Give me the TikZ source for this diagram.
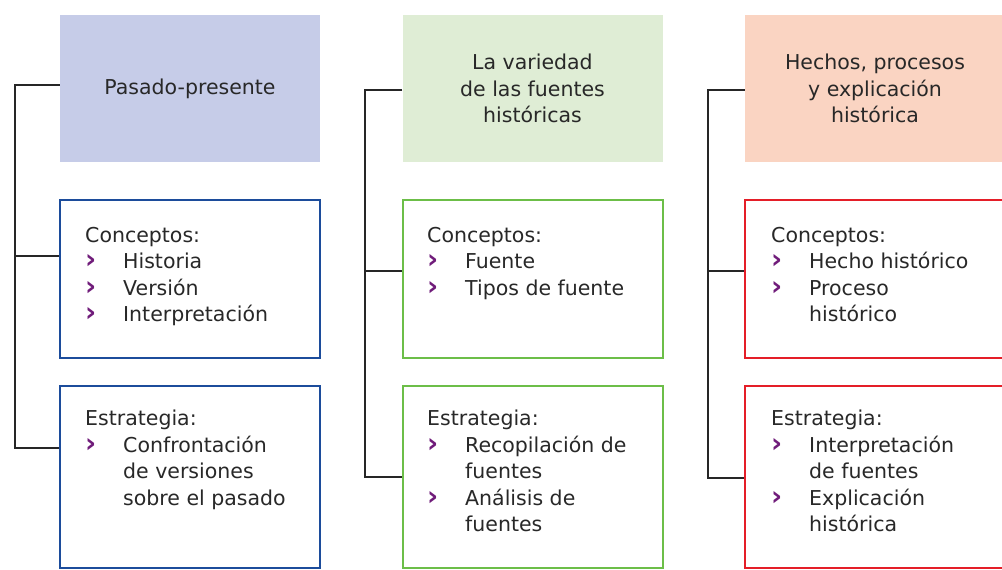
\documentclass[tikz,border=0pt]{standalone}
\usepackage{fontspec}
\setmainfont{DejaVu Sans}
\usetikzlibrary{positioning}
\definecolor{lilafill}{RGB}{198,204,232}
\definecolor{verdefill}{RGB}{223,237,213}
\definecolor{rosafill}{RGB}{250,212,194}
\definecolor{azulline}{RGB}{28,76,155}
\definecolor{verdeline}{RGB}{108,190,72}
\definecolor{rojoline}{RGB}{228,30,40}
\definecolor{vinieta}{RGB}{112,28,122}
\definecolor{texto}{RGB}{40,40,40}
\newcommand{\itm}[1]{\makebox[38pt][l]{\textcolor{vinieta}{\fontsize{27}{26.5}\selectfont\bfseries ›}}#1}
\newcommand{\cont}[1]{\hspace*{38pt}#1}

\begin{document}
\begin{tikzpicture}
  [x=1pt,y=-1pt,font=\fontsize{20.5}{26.5}\selectfont,
   head/.style={rectangle,minimum width=260pt,minimum height=147pt,inner sep=0pt,align=center,text=texto},
   frame/.style={rectangle,draw,line width=2pt,minimum width=260pt,inner sep=0pt,fill=white},
   body/.style={anchor=north west,inner sep=0pt,align=left,text=texto},
   link/.style={line width=2.5pt,black!85}]
  \clip (0,0) rectangle (1002,570);
  \fill[white] (0,0) rectangle (1002,570);

  % cabeceras
  \node[head,fill=lilafill]  (t1) at (190,88.5)   {Pasado-presente};
  \node[head,fill=verdefill] (t2) at (532.5,88.5) {La variedad\\de las fuentes\\históricas};
  \node[head,fill=rosafill]  (t3) at (875,88.5)   {Hechos, procesos\\y explicación\\histórica};

  % conceptos
  \node[frame,draw=azulline,minimum height=158pt]  (c1) at (190,279)   {};
  \node[frame,draw=verdeline,minimum height=158pt] (c2) at (532.5,279) {};
  \node[frame,draw=rojoline,minimum height=158pt]  (c3) at (875,279)   {};

  % estrategias
  \node[frame,draw=azulline,minimum height=182pt]  (e1) at (190,477)   {};
  \node[frame,draw=verdeline,minimum height=182pt] (e2) at (532.5,477) {};
  \node[frame,draw=rojoline,minimum height=182pt]  (e3) at (875,477)   {};

  \node[body] (c1t) at (85,227)  {Conceptos:\\\itm{Historia}\\\itm{Versión}\\\itm{Interpretación}};
  \node[body] (c2t) at (427,227) {Conceptos:\\\itm{Fuente}\\\itm{Tipos de fuente}};
  \node[body] (c3t) at (771,227) {Conceptos:\\\itm{Hecho histórico}\\\itm{Proceso}\\\cont{histórico}};

  \node[body] (e1t) at (85,410)  {Estrategia:\\\itm{Confrontación}\\\cont{de versiones}\\\cont{sobre el pasado}};
  \node[body] (e2t) at (427,410) {Estrategia:\\\itm{Recopilación de}\\\cont{fuentes}\\\itm{Análisis de}\\\cont{fuentes}};
  \node[body] (e3t) at (771,410) {Estrategia:\\\itm{Interpretación}\\\cont{de fuentes}\\\itm{Explicación}\\\cont{histórica}};

  % lineas
  \coordinate (a1) at (15,85);
  \coordinate (b1) at (15,256);
  \coordinate (d1) at (15,448);
  \coordinate (a2) at (365,90);
  \coordinate (b2) at (365,271);
  \coordinate (d2) at (365,477);
  \coordinate (a3) at (708,90);
  \coordinate (b3) at (708,271);
  \coordinate (d3) at (708,478);

  \draw[link] (t1.west |- a1) -- (a1) -- (d1) -- (e1.west |- d1);
  \draw[link] (b1) -- (c1.west |- b1);
  \draw[link] (t2.west |- a2) -- (a2) -- (d2) -- (e2.west |- d2);
  \draw[link] (b2) -- (c2.west |- b2);
  \draw[link] (t3.west |- a3) -- (a3) -- (d3) -- (e3.west |- d3);
  \draw[link] (b3) -- (c3.west |- b3);
\end{tikzpicture}
\end{document}
